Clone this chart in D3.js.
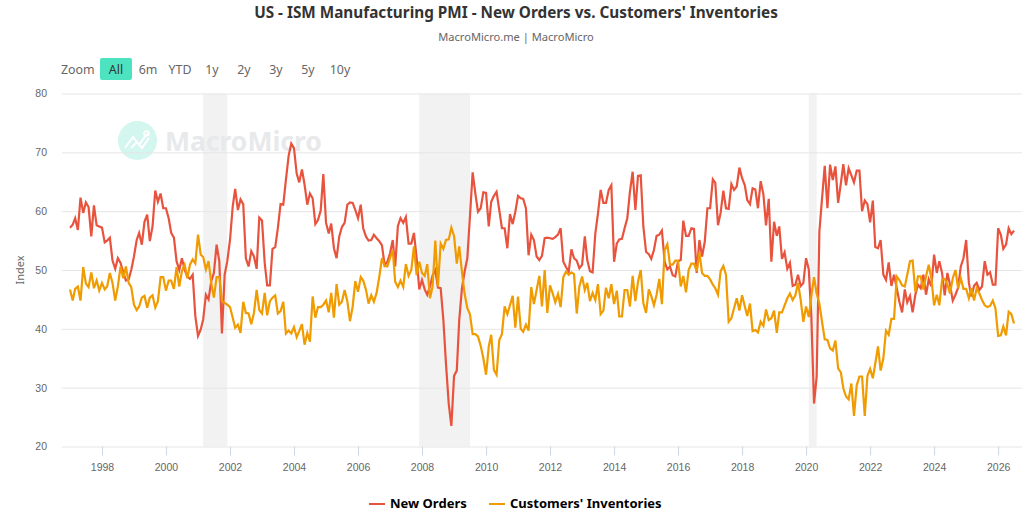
<!DOCTYPE html>
<html>
<head>
<meta charset="utf-8">
<title>US - ISM Manufacturing PMI</title>
<script src="https://cdn.jsdelivr.net/npm/d3@7"></script>
<style>
  html, body { margin: 0; padding: 0; background: #fff; }
  svg { display: block; font-family: "Noto Sans", "Open Sans", sans-serif; }
</style>
</head>
<body>
<div id="wrapper"></div>
<script>
// monthly readings, Jan 1997 onwards
const newOrders = [
  57.2,57.7,58.8,56.8,62.3,59.7,61.5,60.7,55.7,61,57.6,57.4,
  57.2,54.7,55,55.5,51.6,50.2,52,51.2,49.6,48.2,48.4,50,
  52.3,55.1,56.3,54.3,58.2,59.4,54.9,57.4,63.5,61.6,63,60.5,
  60.5,58.8,56.3,55.5,51.5,50,52,50,48.9,48.5,49.2,42.2,
  38.8,39.9,41.6,45.8,45,48.1,49.5,54.3,51.5,39.2,49.2,51.5,
  55.1,60.8,63.8,60.2,62,61.2,52,50.6,53.2,52.3,50.2,58.9,
  58.4,51.2,47.4,47.4,53.6,53.9,57.1,61.2,61.1,65.3,69.4,71.5,
  70.7,66.4,64.9,67.1,64.5,61.1,63,62.2,57.8,58.5,60.1,66.3,
  58,56.2,57.9,53.7,52,55.7,57.3,58,61.1,61.5,61.4,60.2,
  58.8,61.1,57.1,55.7,55,55.1,56,55.4,54.9,54.2,50.8,51.4,
  52.8,55.1,50.6,57.5,58.8,58,59,54.5,54.5,56.3,52,46.7,
  48.3,46.7,45.8,47.2,49.1,50,47,46.9,41.5,34,27.3,23.5,
  32,32.9,41.5,46.9,49.7,52,59,66.6,63,59.9,60.5,63.2,
  63.1,57.4,61.6,62.6,63.3,60.2,57.1,57.1,53.7,59.5,57.8,59.9,
  62.6,62.2,62.1,60.5,52.5,56,55.1,52.3,51.7,52.4,55.4,55.5,
  55.4,55.3,55.6,56,57.1,51.4,50.5,49.7,53.5,52,51.6,50.3,
  50.9,55.7,51.7,49.8,49.6,56.2,59.6,63.6,61.4,61.4,63.6,64.4,
  51.4,54.5,55.2,55.3,57.1,58.8,63.3,66.7,60.2,66,66.1,57.4,
  53.1,52.7,51.9,53.4,55.8,56,56.7,51.4,50.1,50.6,49.1,48.9,
  51.5,51.7,58.4,55.8,55.8,57.1,57,49.5,55.1,52.3,54.8,60.5,
  60.5,65.4,64.8,57.6,59.7,63.5,60.5,60.4,64.6,63.6,64.2,67.4,
  65.6,64.4,61.9,61.2,63.9,63.7,60.5,65.1,62.9,57.6,62.1,51.4,
  58.2,55.8,57.4,51.9,53,50.2,51.2,47.3,47.5,49.2,47.3,47.8,
  52,50.1,42.2,27.3,31.9,56.5,62.1,67.7,60.5,67.9,65.3,67.6,
  61.4,64.7,68,64.4,67.3,66.1,64.9,66.9,66.9,60,61.8,61.2,
  58.1,61.8,53.9,53.7,55.1,49.2,48.3,51.3,47.3,49.2,46.9,44.6,
  42.8,46.7,44.5,45.6,42.8,45.8,47.5,46.9,49.2,45.8,48.4,47.2,
  52.6,49.5,51.5,49.5,45.7,49.5,47.5,44.8,45.8,47,50.6,52,
  55.1,47.8,45.5,47.3,47.8,46.6,47.2,51.5,49.2,49.6,47.5,47.5,
  57.1,56,53.6,54.3,57.1,56.1,56.7
];
const customersInventories = [
  46.7,44.8,46.8,47.2,44.8,50.5,47.7,47.1,49.6,46.9,48.2,46.5,
  47.8,46.7,47.2,49.5,47.8,44.8,47.2,50.6,48.6,50.6,47.8,47.1,
  44.1,43.2,43.8,45.3,45.6,43.6,45.3,45.7,43.6,44.7,48.8,48.8,
  46.5,48.2,48.2,46.8,50.5,47.2,49.8,50.9,48.6,50.9,51.8,51.1,
  56,52.6,52.2,50.1,51.5,47.8,45.3,48.8,48.8,44.7,44.4,44.1,
  43.7,41.9,40.2,40.7,39.3,44.6,42.7,42.6,40.8,42.7,46.6,43.2,
  42.6,46.1,42.3,44.7,45.3,45.7,42.6,43,44.6,39.2,39.7,39.2,
  40.3,38.6,39.6,40.8,37.3,39.3,37.8,45.5,41.9,43.7,43.7,44.1,
  44.8,42.8,46.1,41.9,47.6,44.1,44.6,46.6,44.7,41.3,43.8,48.1,
  46.3,48.8,48.2,46.7,44.3,45.7,44.6,46.1,48.9,52,50.7,50.6,
  52,53.4,48,47.1,48.2,47.1,51,49,50,54,49.1,51.4,
  49.5,49,51,45.2,47.2,55,47.2,54.5,53.6,55.1,55.2,57.2,
  55.8,51.1,54,49.7,46,43.5,42.5,39.1,39.1,38.7,37.1,35,
  32.2,37,39,33,32.2,38.1,39.1,43.8,42.5,44,45.6,40.2,
  45.5,40,39.5,40.7,39.7,47.1,44.2,46.6,49,43.8,50,42.7,
  47.4,46,44.5,45.9,43.7,48.8,49.7,49.2,49.6,49.3,42.6,47.2,
  48.9,46.6,47.8,44.7,46.1,44.9,47.6,42.5,43.1,47,45.2,47.6,
  44.2,46.5,42.1,42.1,46.6,46.6,43.8,49,44.7,48,50,44.4,
  42.7,46.7,45.6,44,45.8,48.5,44.2,53.4,54.4,50.9,50.9,51.6,
  51.6,47.2,49,46.2,50,51.1,51.1,49.8,53,49.5,49,49,
  48.4,47.5,46.9,45.8,49.8,50.7,49.2,41.2,41.8,43.5,45.2,43.1,
  45.7,43.8,42.2,44.3,39.6,39.8,39.4,41.2,40.5,43.3,41.5,41.8,
  43.1,39.3,42.8,42.8,44,45.2,46,44.9,45.7,47.8,44.9,41.2,
  43.8,42,45.5,48.8,46,44.3,41.2,38.2,38.1,36.7,36.3,38,
  33.3,32.6,29.9,28.5,28,30.7,25.2,30.4,31.9,31.9,25.2,32,
  33.2,31.6,34.1,37,32.9,35,39.7,39,41.7,41.7,48.9,48.3,
  47.4,47.2,49.2,51.5,51.6,46.3,48.9,48.9,46.7,48.9,50.9,48.6,
  44,45.8,44,48.3,48.5,47.5,46,48.6,50,46.9,48.6,46.8,
  46.8,45.2,46.9,44.8,46.9,46,44.9,44,43.7,43.9,44.8,43.5,
  38.8,38.9,40.4,38.9,42.9,42.5,40.9
];
const recessions = [["2001-03-01", "2001-12-01"], ["2007-12-01", "2009-07-01"], ["2020-02-01", "2020-05-01"]];
const yTicks = [20, 30, 40, 50, 60, 70, 80];
const xTickYears = d3.range(1998, 2028, 2);
const zoomLabels = ["All", "6m", "YTD", "1y", "2y", "3y", "5y", "10y"];
const seriesNames = ["New Orders", "Customers' Inventories"];
const seriesColors = ["#e8533d", "#f09b00"];

const width = 1035;
const height = 512;
const plot = { left: 62, right: 1022, top: 93.5, bottom: 446.5 };

const parseDate = d3.utcParse("%Y-%m-%d");
const dates = newOrders.map((d, i) => new Date(Date.UTC(1997, i, 1)));

const svg = d3.select("#wrapper")
    .append("svg")
    .attr("width", width)
    .attr("height", height);

const xScale = d3.scaleUtc()
    .domain([dates[0], dates[dates.length - 1]])
    .range([70, 1014]);

const yScale = d3.scaleLinear()
    .domain([20, 80])
    .range([plot.bottom, plot.top]);

// recession bands
svg.append("g")
    .selectAll("rect")
    .data(recessions)
    .enter()
    .append("rect")
    .attr("x", d => xScale(parseDate(d[0])))
    .attr("y", plot.top)
    .attr("width", d => xScale(parseDate(d[1])) - xScale(parseDate(d[0])))
    .attr("height", plot.bottom - plot.top)
    .attr("fill", "#f2f2f2");

// watermark
const mark = svg.append("g");
mark.append("circle")
    .attr("cx", 137.5)
    .attr("cy", 140.5)
    .attr("r", 19.5)
    .attr("fill", "#d3f6ee");
mark.append("path")
    .attr("d", "M125 148 L133 137 L139 145 L146 135 M131 148 L137 142 L142 148 L149 138 M146 135 L148 133")
    .attr("fill", "none")
    .attr("stroke", "#fff")
    .attr("stroke-width", 2);
mark.append("circle")
    .attr("cx", 146.5)
    .attr("cy", 133.5)
    .attr("r", 2.5)
    .attr("fill", "none")
    .attr("stroke", "#fff")
    .attr("stroke-width", 1.5);
mark.append("text")
    .attr("x", 165)
    .attr("y", 151)
    .attr("font-size", "26.5px")
    .attr("font-weight", "bold")
    .attr("fill", "#e7e9eb")
    .text("MacroMicro");

// grid + y labels
const yAxis = svg.append("g")
    .attr("transform", `translate(${plot.left},0)`)
    .call(d3.axisLeft(yScale).tickValues(yTicks).tickSize(plot.left - plot.right).tickPadding(15));
yAxis.select(".domain").remove();
yAxis.selectAll("line").attr("stroke", "#e6e6e6");
yAxis.selectAll("text")
    .attr("fill", "#666")
    .attr("font-size", "10.5px")
    .attr("font-family", "inherit");

const xAxis = svg.append("g")
    .attr("transform", `translate(0,${plot.bottom})`)
    .call(d3.axisBottom(xScale)
        .tickValues(xTickYears.map(y => new Date(Date.UTC(y, 0, 1))))
        .tickFormat(d3.utcFormat("%Y"))
        .tickSize(9)
        .tickPadding(8));
xAxis.select(".domain").remove();
xAxis.selectAll("line").attr("stroke", "#ccd6eb");
xAxis.selectAll("text")
    .attr("fill", "#666")
    .attr("font-size", "10.5px")
    .attr("font-family", "inherit");

svg.append("text")
    .attr("transform", "translate(24,270) rotate(-90)")
    .attr("text-anchor", "middle")
    .attr("font-size", "11px")
    .attr("fill", "#666")
    .text("Index");

// the two lines
const lineGen = d3.line()
    .x((d, i) => xScale(dates[i]))
    .y(d => yScale(d));

svg.append("path")
    .attr("d", lineGen(newOrders))
    .attr("fill", "none")
    .attr("stroke", seriesColors[0])
    .attr("stroke-width", 2.2);

svg.append("path")
    .attr("d", lineGen(customersInventories))
    .attr("fill", "none")
    .attr("stroke", seriesColors[1])
    .attr("stroke-width", 2.2);

// titles
svg.append("text")
    .attr("x", 516)
    .attr("y", 18)
    .attr("text-anchor", "middle")
    .attr("font-size", "15.3px")
    .attr("font-weight", "bold")
    .attr("fill", "#333")
    .text("US - ISM Manufacturing PMI - New Orders vs. Customers' Inventories");

svg.append("text")
    .attr("x", 516)
    .attr("y", 41)
    .attr("text-anchor", "middle")
    .attr("font-size", "11.1px")
    .attr("fill", "#666")
    .text("MacroMicro.me | MacroMicro");

// range selector
svg.append("text")
    .attr("x", 61)
    .attr("y", 74)
    .attr("font-size", "12.4px")
    .attr("fill", "#666")
    .text("Zoom");

svg.append("rect")
    .attr("x", 100)
    .attr("y", 58)
    .attr("width", 32)
    .attr("height", 22)
    .attr("rx", 2)
    .attr("fill", "#4ee3c0");

svg.append("g")
    .selectAll("text")
    .data(zoomLabels)
    .enter()
    .append("text")
    .attr("x", (d, i) => 116 + i * 32)
    .attr("y", 74)
    .attr("text-anchor", "middle")
    .attr("font-size", "12.4px")
    .attr("fill", (d, i) => i == 0 ? "#333" : "#666")
    .text(d => d);

// legend
const legendX = [369, 489];
const legend = svg.append("g")
    .selectAll("g")
    .data(seriesNames)
    .enter()
    .append("g")
    .attr("transform", (d, i) => `translate(${legendX[i]},504)`);

legend.append("line")
    .attr("x1", 0)
    .attr("x2", 16)
    .attr("stroke", (d, i) => seriesColors[i])
    .attr("stroke-width", 2);

legend.append("text")
    .attr("x", 21)
    .attr("y", 4)
    .attr("font-size", "13px")
    .attr("font-weight", "bold")
    .attr("fill", "#000")
    .text(d => d);
</script>
</body>
</html>
